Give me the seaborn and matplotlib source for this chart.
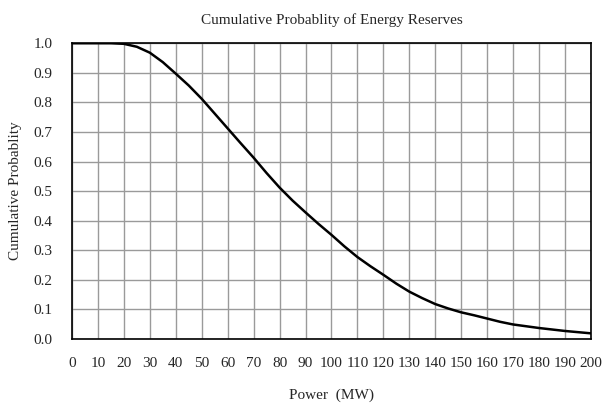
import numpy as np
import pandas as pd
import matplotlib
matplotlib.use('Agg')
import matplotlib.pyplot as plt
import seaborn as sns

# Values
power_mw = [0, 5, 10, 15, 20, 25, 30, 35, 40, 45, 50, 55, 60, 65, 70, 75, 80,
            85, 90, 95, 100, 105, 110, 115, 120, 125, 130, 135, 140, 145, 150,
            155, 160, 165, 170, 175, 180, 185, 190, 195, 200]
cum_prob = [1.0, 1.0, 1.0, 1.0, 0.998, 0.988, 0.968, 0.936, 0.897, 0.857, 0.812,
            0.762, 0.712, 0.662, 0.613, 0.561, 0.512, 0.468, 0.428, 0.389, 0.352,
            0.313, 0.277, 0.246, 0.217, 0.187, 0.160, 0.138, 0.118, 0.103, 0.090,
            0.080, 0.069, 0.058, 0.049, 0.043, 0.037, 0.032, 0.027, 0.023, 0.019]

x_ticks = list(range(0, 201, 10))
y_ticks = [round(v * 0.1, 1) for v in range(11)]

df = pd.DataFrame({'Power': power_mw, 'Prob': cum_prob})

sns.set_style('white')
plt.rcParams['font.family'] = ['Liberation Serif', 'DejaVu Serif']

fig = plt.figure(figsize=(6.02, 4.04), dpi=100)
ax = fig.add_axes([0.1196, 0.161, 0.862, 0.732])

sns.lineplot(data=df, x='Power', y='Prob', color='black', linewidth=1.8, ax=ax)
ax.lines[0].set_solid_joinstyle('round')

ax.set_xlim(0, 200)
ax.set_ylim(0, 1.0)
ax.set_xticks(x_ticks)
ax.set_yticks(y_ticks)
ax.set_yticklabels([f'{v:.1f}' for v in y_ticks])
ax.grid(True, color='#9a9a9a', linewidth=1)
ax.tick_params(axis='both', length=8, color='#9a9a9a', labelsize=11)
ax.tick_params(axis='x', pad=5)
ax.tick_params(axis='y', pad=6)
for s in ax.spines.values():
    s.set_color('black')
    s.set_linewidth(1.2)

ax.set_title('Cumulative Probablity of Energy Reserves', fontsize=11, pad=14)
ax.set_xlabel('Power  (MW)', fontsize=11, labelpad=13)
ax.set_ylabel('Cumulative Probablity', fontsize=11, labelpad=8)

fig.savefig('out.png', dpi=100)
